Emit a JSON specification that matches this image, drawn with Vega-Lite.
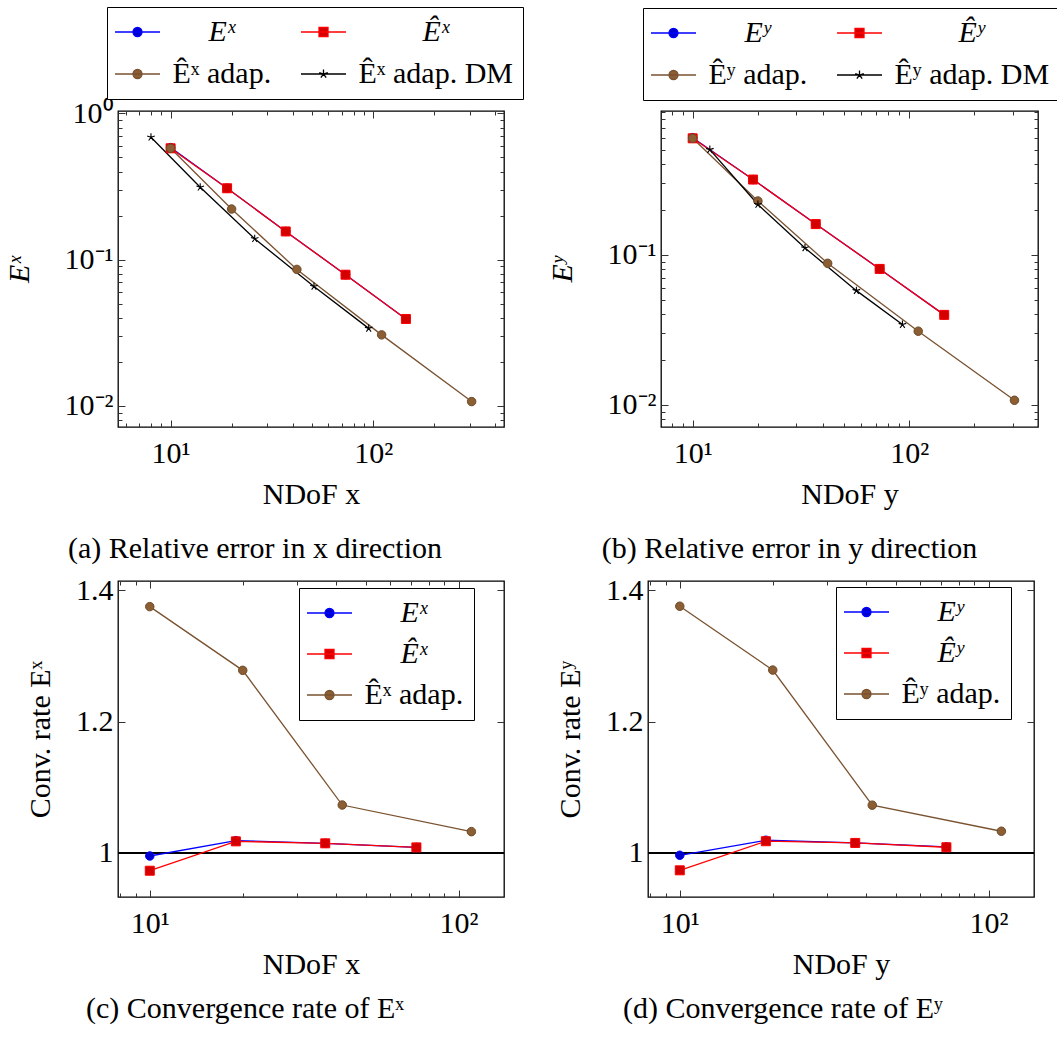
{
  "$schema": "https://vega.github.io/schema/vega-lite/v6.json",
  "padding": {"left": 3, "top": 5, "right": 0, "bottom": 0},
  "datasets": {
    "a": [
      {"series": "Eˣ", "n": 10, "v": 0.584}, {"series": "Eˣ", "n": 19, "v": 0.308}, {"series": "Eˣ", "n": 37, "v": 0.156}, {"series": "Eˣ", "n": 73, "v": 0.0789}, {"series": "Eˣ", "n": 145, "v": 0.0393},
      {"series": "Êˣ", "n": 10, "v": 0.578}, {"series": "Êˣ", "n": 19, "v": 0.308}, {"series": "Êˣ", "n": 37, "v": 0.156}, {"series": "Êˣ", "n": 73, "v": 0.0789}, {"series": "Êˣ", "n": 145, "v": 0.0393},
      {"series": "Êˣ adap.", "n": 10, "v": 0.578}, {"series": "Êˣ adap.", "n": 20, "v": 0.222}, {"series": "Êˣ adap.", "n": 42, "v": 0.0858}, {"series": "Êˣ adap.", "n": 110, "v": 0.0306}, {"series": "Êˣ adap.", "n": 306, "v": 0.0107},
      {"series": "Êˣ adap. DM", "n": 8, "v": 0.688}, {"series": "Êˣ adap. DM", "n": 14, "v": 0.313}, {"series": "Êˣ adap. DM", "n": 26, "v": 0.139}, {"series": "Êˣ adap. DM", "n": 51, "v": 0.0656}, {"series": "Êˣ adap. DM", "n": 95, "v": 0.0339}
    ],
    "b": [
      {"series": "Eʸ", "n": 10, "v": 0.603}, {"series": "Eʸ", "n": 19, "v": 0.317}, {"series": "Eʸ", "n": 37, "v": 0.160}, {"series": "Eʸ", "n": 73, "v": 0.0804}, {"series": "Eʸ", "n": 145, "v": 0.0397},
      {"series": "Êʸ", "n": 10, "v": 0.597}, {"series": "Êʸ", "n": 19, "v": 0.317}, {"series": "Êʸ", "n": 37, "v": 0.160}, {"series": "Êʸ", "n": 73, "v": 0.0804}, {"series": "Êʸ", "n": 145, "v": 0.0397},
      {"series": "Êʸ adap.", "n": 10, "v": 0.597}, {"series": "Êʸ adap.", "n": 20, "v": 0.228}, {"series": "Êʸ adap.", "n": 42, "v": 0.0876}, {"series": "Êʸ adap.", "n": 110, "v": 0.0309}, {"series": "Êʸ adap.", "n": 306, "v": 0.0107},
      {"series": "Êʸ adap. DM", "n": 12, "v": 0.502}, {"series": "Êʸ adap. DM", "n": 20, "v": 0.216}, {"series": "Êʸ adap. DM", "n": 33, "v": 0.111}, {"series": "Êʸ adap. DM", "n": 57, "v": 0.0576}, {"series": "Êʸ adap. DM", "n": 93, "v": 0.0342}
    ],
    "c": [
      {"series": "Eˣ", "n": 10, "v": 0.9954}, {"series": "Eˣ", "n": 19, "v": 1.0188}, {"series": "Eˣ", "n": 37, "v": 1.0147}, {"series": "Eˣ", "n": 73, "v": 1.0085},
      {"series": "Êˣ", "n": 10, "v": 0.973}, {"series": "Êˣ", "n": 19, "v": 1.0177}, {"series": "Êˣ", "n": 37, "v": 1.0147}, {"series": "Êˣ", "n": 73, "v": 1.0085},
      {"series": "Êˣ adap.", "n": 10, "v": 1.375}, {"series": "Êˣ adap.", "n": 20, "v": 1.278}, {"series": "Êˣ adap.", "n": 42, "v": 1.073}, {"series": "Êˣ adap.", "n": 110, "v": 1.0325}
    ],
    "d": [
      {"series": "Eʸ", "n": 10, "v": 0.9965}, {"series": "Eʸ", "n": 19, "v": 1.0194}, {"series": "Eʸ", "n": 37, "v": 1.0153}, {"series": "Eʸ", "n": 73, "v": 1.0092},
      {"series": "Êʸ", "n": 10, "v": 0.9736}, {"series": "Êʸ", "n": 19, "v": 1.0179}, {"series": "Êʸ", "n": 37, "v": 1.0153}, {"series": "Êʸ", "n": 73, "v": 1.0087},
      {"series": "Êʸ adap.", "n": 10, "v": 1.3756}, {"series": "Êʸ adap.", "n": 20, "v": 1.2784}, {"series": "Êʸ adap.", "n": 42, "v": 1.0728}, {"series": "Êʸ adap.", "n": 110, "v": 1.0331}
    ]
  },
  "columns": 1,
  "spacing": 9,
  "resolve": {"scale": {"color": "independent"}, "legend": {"color": "independent"}},
  "concat": [
    {
      "resolve": {"scale": {"color": "independent"}, "legend": {"color": "independent"}},
      "hconcat": [
        {
          "width": 386, "height": 316,
          "data": {"name": "a"},
          "title": {"text": "(a) Relative error in x direction", "orient": "bottom", "dx": -56, "offset": 25},
          "resolve": {"axis": {"x": "independent", "y": "independent"}},
          "layer": [
            {
              "mark": {"type": "line", "strokeWidth": 1.3},
              "encoding": {
                "x": {"field": "n", "type": "quantitative", "scale": {"type": "log", "domain": [5.5, 442], "nice": false}, "axis": {"orient": "bottom", "values": [10, 100], "tickSize": -7, "labelPadding": 18, "labelExpr": "datum.value < 50 ? '10¹' : '10²'", "title": "NDoF x", "titlePadding": 11}},
                "y": {"field": "v", "type": "quantitative", "scale": {"type": "log", "domain": [0.00717, 1.04], "nice": false}, "axis": {"orient": "left", "values": [0.01, 0.1, 1], "tickSize": -7, "labelPadding": 12, "labelExpr": "datum.value > 0.5 ? '10⁰' : datum.value > 0.05 ? '10⁻¹' : '10⁻²'", "title": "Eˣ", "titleFontStyle": "italic", "titlePadding": 30}},
                "color": {"field": "series", "type": "nominal",
                  "scale": {"domain": ["Eˣ", "Êˣ adap.", "Êˣ", "Êˣ adap. DM"], "range": ["#0000FF", "#7A5230", "#FF0000", "#000000"]},
                  "legend": {"orient": "none", "legendX": -11, "legendY": -104, "columns": 2, "title": null, "strokeColor": "#000", "fillColor": "#fff", "padding": 10, "rowPadding": 12, "columnPadding": 26, "symbolSize": 81, "symbolOffset": 5.5, "labelOffset": 20, "labelLimit": 400,
                    "encode": {
                      "symbols": {"update": {
                        "shape": {"signal": "indexof(datum.value,'DM')>=0 ? 'M-5,0L5,0M0,-1L0,0M0.95,-0.31L0,0M0.59,0.81L0,0M-0.59,0.81L0,0M-0.95,-0.31L0,0' : indexof(datum.value,'adap')>=0 ? 'M-5,0L5,0M1,0A1,1,0,1,1,-1,0A1,1,0,1,1,1,0Z' : indexof(datum.value,'Ê')>=0 ? 'M-5,0L5,0M-1,-1L1,-1L1,1L-1,1Z' : 'M-5,0L5,0M1,0A1,1,0,1,1,-1,0A1,1,0,1,1,1,0Z'"},
                        "fill": {"signal": "indexof(datum.value,'DM')>=0 ? '#000' : indexof(datum.value,'adap')>=0 ? '#8B5E34' : indexof(datum.value,'Ê')>=0 ? '#D40000' : '#0000CC'"},
                        "stroke": {"signal": "indexof(datum.value,'DM')>=0 ? '#000' : indexof(datum.value,'adap')>=0 ? '#7A5230' : indexof(datum.value,'Ê')>=0 ? '#FF0000' : '#0000FF'"},
                        "strokeWidth": {"value": 1.3},
                        "opacity": {"value": 1}
                      }},
                      "labels": {"update": {
                        "dx": {"signal": "datum.value === 'Eˣ' ? 36 : datum.value === 'Êˣ' ? 64 : 0"},
                        "fontStyle": {"signal": "indexof(datum.value,'adap') < 0 ? 'italic' : 'normal'"}
                      }}
                    }
                  }
                }
              }
            },
            {
              "transform": [{"filter": {"field": "series", "equal": "Eˣ"}}],
              "mark": {"type": "point", "shape": "circle", "filled": true, "fill": "#0000CC", "stroke": "#0000FF", "strokeWidth": 1, "opacity": 1, "size": 72},
              "encoding": {
                "x": {"field": "n", "type": "quantitative", "scale": {"type": "log", "domain": [5.5, 442], "nice": false}, "axis": {"orient": "bottom", "values": [6, 7, 8, 9, 20, 30, 40, 50, 60, 70, 80, 90, 200, 300, 400], "tickSize": -4, "labels": false, "title": null}},
                "y": {"field": "v", "type": "quantitative", "scale": {"type": "log", "domain": [0.00717, 1.04], "nice": false}, "axis": {"orient": "left", "values": [0.008, 0.009, 0.02, 0.03, 0.04, 0.05, 0.06, 0.07, 0.08, 0.09, 0.2, 0.3, 0.4, 0.5, 0.6, 0.7, 0.8, 0.9], "tickSize": -4, "labels": false, "title": null}}
              }
            },
            {
              "transform": [{"filter": {"field": "series", "equal": "Êˣ"}}],
              "mark": {"type": "point", "shape": "square", "filled": true, "fill": "#D40000", "stroke": "#FF0000", "strokeWidth": 1, "opacity": 1, "size": 81},
              "encoding": {
                "x": {"field": "n", "type": "quantitative", "scale": {"type": "log", "domain": [5.5, 442], "nice": false}, "axis": {"orient": "top", "values": [10, 100], "tickSize": -7, "labels": false, "title": null}},
                "y": {"field": "v", "type": "quantitative", "scale": {"type": "log", "domain": [0.00717, 1.04], "nice": false}, "axis": {"orient": "right", "values": [0.01, 0.1, 1], "tickSize": -7, "labels": false, "title": null}}
              }
            },
            {
              "transform": [{"filter": {"field": "series", "equal": "Êˣ adap."}}],
              "mark": {"type": "point", "shape": "circle", "filled": true, "fill": "#8B5E34", "stroke": "#6E4A28", "strokeWidth": 1, "opacity": 1, "size": 72},
              "encoding": {
                "x": {"field": "n", "type": "quantitative", "scale": {"type": "log", "domain": [5.5, 442], "nice": false}, "axis": {"orient": "top", "values": [6, 7, 8, 9, 20, 30, 40, 50, 60, 70, 80, 90, 200, 300, 400], "tickSize": -4, "labels": false, "title": null}},
                "y": {"field": "v", "type": "quantitative", "scale": {"type": "log", "domain": [0.00717, 1.04], "nice": false}, "axis": {"orient": "right", "values": [0.008, 0.009, 0.02, 0.03, 0.04, 0.05, 0.06, 0.07, 0.08, 0.09, 0.2, 0.3, 0.4, 0.5, 0.6, 0.7, 0.8, 0.9], "tickSize": -4, "labels": false, "title": null}}
              }
            },
            {
              "transform": [{"filter": {"field": "series", "equal": "Êˣ adap. DM"}}],
              "mark": {"type": "point", "shape": "M0,-1L0,0M0.95,-0.31L0,0M0.59,0.81L0,0M-0.59,0.81L0,0M-0.95,-0.31L0,0", "filled": false, "stroke": "#000", "strokeWidth": 1.1, "opacity": 1, "size": 64},
              "encoding": {
                "x": {"field": "n", "type": "quantitative", "scale": {"type": "log", "domain": [5.5, 442], "nice": false}, "axis": null},
                "y": {"field": "v", "type": "quantitative", "scale": {"type": "log", "domain": [0.00717, 1.04], "nice": false}, "axis": null}
              }
            }
          ]
        },
        {
          "width": 377, "height": 316,
          "data": {"name": "b"},
          "title": {"text": "(b) Relative error in y direction", "orient": "bottom", "dx": -60, "offset": 25},
          "resolve": {"axis": {"x": "independent", "y": "independent"}},
          "layer": [
            {
              "mark": {"type": "line", "strokeWidth": 1.3},
              "encoding": {
                "x": {"field": "n", "type": "quantitative", "scale": {"type": "log", "domain": [7.14, 393], "nice": false}, "axis": {"orient": "bottom", "values": [10, 100], "tickSize": -7, "labelPadding": 18, "labelExpr": "datum.value < 50 ? '10¹' : '10²'", "title": "NDoF y", "titlePadding": 11}},
                "y": {"field": "v", "type": "quantitative", "scale": {"type": "log", "domain": [0.0071, 0.908], "nice": false}, "axis": {"orient": "left", "values": [0.01, 0.1], "tickSize": -7, "labelPadding": 12, "labelExpr": "datum.value > 0.5 ? '10⁰' : datum.value > 0.05 ? '10⁻¹' : '10⁻²'", "title": "Eʸ", "titleFontStyle": "italic", "titlePadding": 30}},
                "color": {"field": "series", "type": "nominal",
                  "scale": {"domain": ["Eʸ", "Êʸ adap.", "Êʸ", "Êʸ adap. DM"], "range": ["#0000FF", "#7A5230", "#FF0000", "#000000"]},
                  "legend": {"orient": "none", "legendX": -18, "legendY": -103, "columns": 2, "title": null, "strokeColor": "#000", "fillColor": "#fff", "padding": 10, "rowPadding": 12, "columnPadding": 26, "symbolSize": 81, "symbolOffset": 5.5, "labelOffset": 20, "labelLimit": 400,
                    "encode": {
                      "symbols": {"update": {
                        "shape": {"signal": "indexof(datum.value,'DM')>=0 ? 'M-5,0L5,0M0,-1L0,0M0.95,-0.31L0,0M0.59,0.81L0,0M-0.59,0.81L0,0M-0.95,-0.31L0,0' : indexof(datum.value,'adap')>=0 ? 'M-5,0L5,0M1,0A1,1,0,1,1,-1,0A1,1,0,1,1,1,0Z' : indexof(datum.value,'Ê')>=0 ? 'M-5,0L5,0M-1,-1L1,-1L1,1L-1,1Z' : 'M-5,0L5,0M1,0A1,1,0,1,1,-1,0A1,1,0,1,1,1,0Z'"},
                        "fill": {"signal": "indexof(datum.value,'DM')>=0 ? '#000' : indexof(datum.value,'adap')>=0 ? '#8B5E34' : indexof(datum.value,'Ê')>=0 ? '#D40000' : '#0000CC'"},
                        "stroke": {"signal": "indexof(datum.value,'DM')>=0 ? '#000' : indexof(datum.value,'adap')>=0 ? '#7A5230' : indexof(datum.value,'Ê')>=0 ? '#FF0000' : '#0000FF'"},
                        "strokeWidth": {"value": 1.3},
                        "opacity": {"value": 1}
                      }},
                      "labels": {"update": {
                        "dx": {"signal": "datum.value === 'Eʸ' ? 36 : datum.value === 'Êʸ' ? 64 : 0"},
                        "fontStyle": {"signal": "indexof(datum.value,'adap') < 0 ? 'italic' : 'normal'"}
                      }}
                    }
                  }
                }
              }
            },
            {
              "transform": [{"filter": {"field": "series", "equal": "Eʸ"}}],
              "mark": {"type": "point", "shape": "circle", "filled": true, "fill": "#0000CC", "stroke": "#0000FF", "strokeWidth": 1, "opacity": 1, "size": 72},
              "encoding": {
                "x": {"field": "n", "type": "quantitative", "scale": {"type": "log", "domain": [7.14, 393], "nice": false}, "axis": {"orient": "bottom", "values": [8, 9, 20, 30, 40, 50, 60, 70, 80, 90, 200, 300], "tickSize": -4, "labels": false, "title": null}},
                "y": {"field": "v", "type": "quantitative", "scale": {"type": "log", "domain": [0.0071, 0.908], "nice": false}, "axis": {"orient": "left", "values": [0.008, 0.009, 0.02, 0.03, 0.04, 0.05, 0.06, 0.07, 0.08, 0.09, 0.2, 0.3, 0.4, 0.5, 0.6, 0.7, 0.8, 0.9], "tickSize": -4, "labels": false, "title": null}}
              }
            },
            {
              "transform": [{"filter": {"field": "series", "equal": "Êʸ"}}],
              "mark": {"type": "point", "shape": "square", "filled": true, "fill": "#D40000", "stroke": "#FF0000", "strokeWidth": 1, "opacity": 1, "size": 81},
              "encoding": {
                "x": {"field": "n", "type": "quantitative", "scale": {"type": "log", "domain": [7.14, 393], "nice": false}, "axis": {"orient": "top", "values": [10, 100], "tickSize": -7, "labels": false, "title": null}},
                "y": {"field": "v", "type": "quantitative", "scale": {"type": "log", "domain": [0.0071, 0.908], "nice": false}, "axis": {"orient": "right", "values": [0.01, 0.1], "tickSize": -7, "labels": false, "title": null}}
              }
            },
            {
              "transform": [{"filter": {"field": "series", "equal": "Êʸ adap."}}],
              "mark": {"type": "point", "shape": "circle", "filled": true, "fill": "#8B5E34", "stroke": "#6E4A28", "strokeWidth": 1, "opacity": 1, "size": 72},
              "encoding": {
                "x": {"field": "n", "type": "quantitative", "scale": {"type": "log", "domain": [7.14, 393], "nice": false}, "axis": {"orient": "top", "values": [8, 9, 20, 30, 40, 50, 60, 70, 80, 90, 200, 300], "tickSize": -4, "labels": false, "title": null}},
                "y": {"field": "v", "type": "quantitative", "scale": {"type": "log", "domain": [0.0071, 0.908], "nice": false}, "axis": {"orient": "right", "values": [0.008, 0.009, 0.02, 0.03, 0.04, 0.05, 0.06, 0.07, 0.08, 0.09, 0.2, 0.3, 0.4, 0.5, 0.6, 0.7, 0.8, 0.9], "tickSize": -4, "labels": false, "title": null}}
              }
            },
            {
              "transform": [{"filter": {"field": "series", "equal": "Êʸ adap. DM"}}],
              "mark": {"type": "point", "shape": "M0,-1L0,0M0.95,-0.31L0,0M0.59,0.81L0,0M-0.59,0.81L0,0M-0.95,-0.31L0,0", "filled": false, "stroke": "#000", "strokeWidth": 1.1, "opacity": 1, "size": 64},
              "encoding": {
                "x": {"field": "n", "type": "quantitative", "scale": {"type": "log", "domain": [7.14, 393], "nice": false}, "axis": null},
                "y": {"field": "v", "type": "quantitative", "scale": {"type": "log", "domain": [0.0071, 0.908], "nice": false}, "axis": null}
              }
            }
          ]
        }
      ],
      "spacing": 157,
      "bounds": "flush"
    },
    {
      "resolve": {"scale": {"color": "independent"}, "legend": {"color": "independent"}},
      "hconcat": [
        {
          "width": 386, "height": 316,
          "data": {"name": "c"},
          "title": {"text": "(c) Convergence rate of Eˣ", "orient": "bottom", "dx": -66, "offset": 15},
          "resolve": {"axis": {"x": "independent", "y": "independent"}},
          "layer": [
            {
              "mark": {"type": "rule", "color": "#000", "strokeWidth": 1.3},
              "encoding": {"y": {"datum": 1, "type": "quantitative", "scale": {"type": "linear", "domain": [0.933, 1.414], "nice": false, "zero": false}, "axis": null}}
            },
            {
              "mark": {"type": "line", "strokeWidth": 1.3},
              "encoding": {
                "x": {"field": "n", "type": "quantitative", "scale": {"type": "log", "domain": [7.89, 140.3], "nice": false}, "axis": {"orient": "bottom", "values": [10, 100], "tickSize": -7, "labelPadding": 18, "labelExpr": "datum.value < 50 ? '10¹' : '10²'", "title": "NDoF x", "titlePadding": 11}},
                "y": {"field": "v", "type": "quantitative", "scale": {"type": "linear", "domain": [0.933, 1.414], "nice": false, "zero": false}, "axis": {"orient": "left", "values": [1, 1.2, 1.4], "tickSize": -7, "labelPadding": 12, "labelExpr": "datum.value == 1 ? '1' : format(datum.value, '.1f')", "title": "Conv. rate Eˣ", "titlePadding": 20}},
                "color": {"field": "series", "type": "nominal",
                  "scale": {"domain": ["Eˣ", "Êˣ", "Êˣ adap."], "range": ["#0000FF", "#FF0000", "#7A5230"]},
                  "legend": {"orient": "none", "legendX": 181, "legendY": 7, "columns": 1, "title": null, "strokeColor": "#000", "fillColor": "#fff", "padding": 10, "rowPadding": 11, "symbolSize": 81, "symbolOffset": 5.5, "labelOffset": 20, "labelLimit": 400,
                    "encode": {
                      "symbols": {"update": {
                        "shape": {"signal": "indexof(datum.value,'adap')>=0 ? 'M-5,0L5,0M1,0A1,1,0,1,1,-1,0A1,1,0,1,1,1,0Z' : indexof(datum.value,'Ê')>=0 ? 'M-5,0L5,0M-1,-1L1,-1L1,1L-1,1Z' : 'M-5,0L5,0M1,0A1,1,0,1,1,-1,0A1,1,0,1,1,1,0Z'"},
                        "fill": {"signal": "indexof(datum.value,'adap')>=0 ? '#8B5E34' : indexof(datum.value,'Ê')>=0 ? '#D40000' : '#0000CC'"},
                        "stroke": {"signal": "indexof(datum.value,'adap')>=0 ? '#7A5230' : indexof(datum.value,'Ê')>=0 ? '#FF0000' : '#0000FF'"},
                        "strokeWidth": {"value": 1.3},
                        "opacity": {"value": 1}
                      }},
                      "labels": {"update": {
                        "dx": {"signal": "indexof(datum.value,'adap') < 0 ? 36 : 0"},
                        "fontStyle": {"signal": "indexof(datum.value,'adap') < 0 ? 'italic' : 'normal'"}
                      }}
                    }
                  }
                }
              }
            },
            {
              "transform": [{"filter": {"field": "series", "equal": "Eˣ"}}],
              "mark": {"type": "point", "shape": "circle", "filled": true, "fill": "#0000CC", "stroke": "#0000FF", "strokeWidth": 1, "opacity": 1, "size": 72},
              "encoding": {
                "x": {"field": "n", "type": "quantitative", "scale": {"type": "log", "domain": [7.89, 140.3], "nice": false}, "axis": {"orient": "bottom", "values": [8, 9, 20, 30, 40, 50, 60, 70, 80, 90], "tickSize": -4, "labels": false, "title": null}},
                "y": {"field": "v", "type": "quantitative", "scale": {"type": "linear", "domain": [0.933, 1.414], "nice": false, "zero": false}, "axis": null}
              }
            },
            {
              "transform": [{"filter": {"field": "series", "equal": "Êˣ"}}],
              "mark": {"type": "point", "shape": "square", "filled": true, "fill": "#D40000", "stroke": "#FF0000", "strokeWidth": 1, "opacity": 1, "size": 81},
              "encoding": {
                "x": {"field": "n", "type": "quantitative", "scale": {"type": "log", "domain": [7.89, 140.3], "nice": false}, "axis": {"orient": "top", "values": [10, 100], "tickSize": -7, "labels": false, "title": null}},
                "y": {"field": "v", "type": "quantitative", "scale": {"type": "linear", "domain": [0.933, 1.414], "nice": false, "zero": false}, "axis": {"orient": "right", "values": [1, 1.2, 1.4], "tickSize": -7, "labels": false, "title": null}}
              }
            },
            {
              "transform": [{"filter": {"field": "series", "equal": "Êˣ adap."}}],
              "mark": {"type": "point", "shape": "circle", "filled": true, "fill": "#8B5E34", "stroke": "#6E4A28", "strokeWidth": 1, "opacity": 1, "size": 72},
              "encoding": {
                "x": {"field": "n", "type": "quantitative", "scale": {"type": "log", "domain": [7.89, 140.3], "nice": false}, "axis": {"orient": "top", "values": [8, 9, 20, 30, 40, 50, 60, 70, 80, 90], "tickSize": -4, "labels": false, "title": null}},
                "y": {"field": "v", "type": "quantitative", "scale": {"type": "linear", "domain": [0.933, 1.414], "nice": false, "zero": false}, "axis": null}
              }
            }
          ]
        },
        {
          "width": 386, "height": 316,
          "data": {"name": "d"},
          "title": {"text": "(d) Convergence rate of Eʸ", "orient": "bottom", "dx": -58, "offset": 15},
          "resolve": {"axis": {"x": "independent", "y": "independent"}},
          "layer": [
            {
              "mark": {"type": "rule", "color": "#000", "strokeWidth": 1.3},
              "encoding": {"y": {"datum": 1, "type": "quantitative", "scale": {"type": "linear", "domain": [0.933, 1.414], "nice": false, "zero": false}, "axis": null}}
            },
            {
              "mark": {"type": "line", "strokeWidth": 1.3},
              "encoding": {
                "x": {"field": "n", "type": "quantitative", "scale": {"type": "log", "domain": [7.89, 140.3], "nice": false}, "axis": {"orient": "bottom", "values": [10, 100], "tickSize": -7, "labelPadding": 18, "labelExpr": "datum.value < 50 ? '10¹' : '10²'", "title": "NDoF y", "titlePadding": 11}},
                "y": {"field": "v", "type": "quantitative", "scale": {"type": "linear", "domain": [0.933, 1.414], "nice": false, "zero": false}, "axis": {"orient": "left", "values": [1, 1.2, 1.4], "tickSize": -7, "labelPadding": 12, "labelExpr": "datum.value == 1 ? '1' : format(datum.value, '.1f')", "title": "Conv. rate Eʸ", "titlePadding": 20}},
                "color": {"field": "series", "type": "nominal",
                  "scale": {"domain": ["Eʸ", "Êʸ", "Êʸ adap."], "range": ["#0000FF", "#FF0000", "#7A5230"]},
                  "legend": {"orient": "none", "legendX": 188, "legendY": 6, "columns": 1, "title": null, "strokeColor": "#000", "fillColor": "#fff", "padding": 10, "rowPadding": 11, "symbolSize": 81, "symbolOffset": 5.5, "labelOffset": 20, "labelLimit": 400,
                    "encode": {
                      "symbols": {"update": {
                        "shape": {"signal": "indexof(datum.value,'adap')>=0 ? 'M-5,0L5,0M1,0A1,1,0,1,1,-1,0A1,1,0,1,1,1,0Z' : indexof(datum.value,'Ê')>=0 ? 'M-5,0L5,0M-1,-1L1,-1L1,1L-1,1Z' : 'M-5,0L5,0M1,0A1,1,0,1,1,-1,0A1,1,0,1,1,1,0Z'"},
                        "fill": {"signal": "indexof(datum.value,'adap')>=0 ? '#8B5E34' : indexof(datum.value,'Ê')>=0 ? '#D40000' : '#0000CC'"},
                        "stroke": {"signal": "indexof(datum.value,'adap')>=0 ? '#7A5230' : indexof(datum.value,'Ê')>=0 ? '#FF0000' : '#0000FF'"},
                        "strokeWidth": {"value": 1.3},
                        "opacity": {"value": 1}
                      }},
                      "labels": {"update": {
                        "dx": {"signal": "indexof(datum.value,'adap') < 0 ? 36 : 0"},
                        "fontStyle": {"signal": "indexof(datum.value,'adap') < 0 ? 'italic' : 'normal'"}
                      }}
                    }
                  }
                }
              }
            },
            {
              "transform": [{"filter": {"field": "series", "equal": "Eʸ"}}],
              "mark": {"type": "point", "shape": "circle", "filled": true, "fill": "#0000CC", "stroke": "#0000FF", "strokeWidth": 1, "opacity": 1, "size": 72},
              "encoding": {
                "x": {"field": "n", "type": "quantitative", "scale": {"type": "log", "domain": [7.89, 140.3], "nice": false}, "axis": {"orient": "bottom", "values": [8, 9, 20, 30, 40, 50, 60, 70, 80, 90], "tickSize": -4, "labels": false, "title": null}},
                "y": {"field": "v", "type": "quantitative", "scale": {"type": "linear", "domain": [0.933, 1.414], "nice": false, "zero": false}, "axis": null}
              }
            },
            {
              "transform": [{"filter": {"field": "series", "equal": "Êʸ"}}],
              "mark": {"type": "point", "shape": "square", "filled": true, "fill": "#D40000", "stroke": "#FF0000", "strokeWidth": 1, "opacity": 1, "size": 81},
              "encoding": {
                "x": {"field": "n", "type": "quantitative", "scale": {"type": "log", "domain": [7.89, 140.3], "nice": false}, "axis": {"orient": "top", "values": [10, 100], "tickSize": -7, "labels": false, "title": null}},
                "y": {"field": "v", "type": "quantitative", "scale": {"type": "linear", "domain": [0.933, 1.414], "nice": false, "zero": false}, "axis": {"orient": "right", "values": [1, 1.2, 1.4], "tickSize": -7, "labels": false, "title": null}}
              }
            },
            {
              "transform": [{"filter": {"field": "series", "equal": "Êʸ adap."}}],
              "mark": {"type": "point", "shape": "circle", "filled": true, "fill": "#8B5E34", "stroke": "#6E4A28", "strokeWidth": 1, "opacity": 1, "size": 72},
              "encoding": {
                "x": {"field": "n", "type": "quantitative", "scale": {"type": "log", "domain": [7.89, 140.3], "nice": false}, "axis": {"orient": "top", "values": [8, 9, 20, 30, 40, 50, 60, 70, 80, 90], "tickSize": -4, "labels": false, "title": null}},
                "y": {"field": "v", "type": "quantitative", "scale": {"type": "linear", "domain": [0.933, 1.414], "nice": false, "zero": false}, "axis": null}
              }
            }
          ]
        }
      ],
      "spacing": 144,
      "bounds": "flush"
    }
  ],
  "config": {
    "font": "Liberation Serif",
    "axis": {"labelFont": "Liberation Serif", "titleFont": "Liberation Serif", "labelFontSize": 30, "titleFontSize": 30, "titleFontWeight": "normal", "labelColor": "#000", "titleColor": "#000", "tickColor": "#333", "tickWidth": 1, "domain": false, "grid": false},
    "legend": {"labelFont": "Liberation Serif", "labelFontSize": 30, "labelColor": "#000"},
    "title": {"font": "Liberation Serif", "fontSize": 30, "fontWeight": "normal", "color": "#000"},
    "view": {"stroke": "#000", "strokeWidth": 1.3}
  }
}
